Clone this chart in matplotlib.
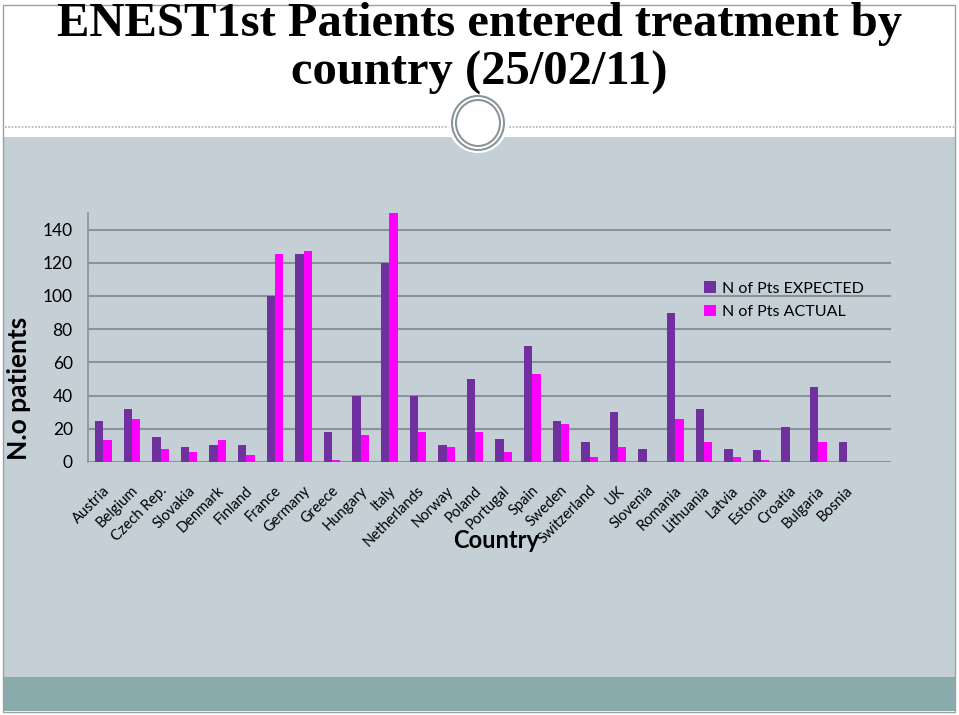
import matplotlib.pyplot as plt
import matplotlib.patches as mpatches
import matplotlib.transforms as mtransforms
import numpy as np

# ENEST1st patients by country: expected vs actual

countries = ["Austria", "Belgium", "Czech Rep.", "Slovakia", "Denmark", "Finland",
             "France", "Germany", "Greece", "Hungary", "Italy", "Netherlands",
             "Norway", "Poland", "Portugal", "Spain", "Sweden", "Switzerland",
             "UK", "Slovenia", "Romania", "Lithuania", "Latvia", "Estonia",
             "Croatia", "Bulgaria", "Bosnia"]
expected = [25, 32, 15, 9, 10, 10, 100, 125, 18, 40, 120, 40, 10, 50, 14, 70,
            25, 12, 30, 8, 90, 32, 8, 7, 21, 45, 12]
actual = [13, 26, 8, 6, 13, 4, 125, 127, 1, 16, 150, 18, 9, 18, 6, 53, 23, 3,
          9, 0, 26, 12, 3, 1, 0, 12, 0]
yticks = [0, 20, 40, 60, 80, 100, 120, 140]

W, H = 959, 715
fig = plt.figure(figsize=(W / 100, H / 100), dpi=100)
fig.patch.set_facecolor("white")


def fx(x):
    return x / W


def fy(y):
    return 1 - y / H


# slide decoration
fig.add_artist(mpatches.Rectangle((fx(4), fy(677)), fx(951), fy(137) - fy(677),
                                  facecolor="#c5d0d6", edgecolor="none", zorder=0))
fig.add_artist(mpatches.Rectangle((fx(4), fy(711)), fx(951), fy(677) - fy(711),
                                  facecolor="#8aabac", edgecolor="none", zorder=0))
fig.add_artist(mpatches.Rectangle((fx(3), fy(712)), fx(952), fy(5) - fy(712),
                                  facecolor="none", edgecolor="#9aa0a4", lw=1, zorder=1))
fig.add_artist(plt.Line2D([fx(5), fx(450)], [fy(127), fy(127)], color="#a8aeb2",
                          lw=1.2, ls=(0, (1, 1)), zorder=1))
fig.add_artist(plt.Line2D([fx(506), fx(954)], [fy(127), fy(127)], color="#a8aeb2",
                          lw=1.2, ls=(0, (1, 1)), zorder=1))
fig.add_artist(mpatches.Ellipse((fx(478), fy(123)), fx(60), 60 / H,
                                facecolor="white", edgecolor="none", zorder=2))
fig.add_artist(mpatches.Ellipse((fx(478), fy(123)), fx(52), 54 / H,
                                facecolor="none", edgecolor="#8a9599", lw=1.5, zorder=3))
fig.add_artist(mpatches.Ellipse((fx(478), fy(123)), fx(44), 46 / H,
                                facecolor="none", edgecolor="#8a9599", lw=1.5, zorder=3))

fig.text(0.5, fy(24), "ENEST1st Patients entered treatment by", ha="center", va="center",
         fontsize=35, fontweight="bold", family="Liberation Serif")
fig.text(0.5, fy(73), "country (25/02/11)", ha="center", va="center",
         fontsize=35, fontweight="bold", family="Liberation Serif")

# chart
ax = fig.add_axes([fx(88), fy(462), fx(803), (462 - 213) / H])
ax.set_facecolor("none")
x = np.arange(len(countries))
w = 0.29
ax.bar(x - w / 2, expected, w, color="#7030a0", label="N of Pts EXPECTED", zorder=3)
ax.bar(x + w / 2, actual, w, color="#ff00ff", label="N of Pts ACTUAL", zorder=3)

ax.set_xlim(-0.535, 27.54)
ax.set_ylim(0, 150)
ax.set_yticks(yticks)
ax.yaxis.grid(True, color="#8c9398", lw=1.5)
ax.set_axisbelow(True)
for s in ["top", "right", "bottom"]:
    ax.spines[s].set_visible(False)
ax.spines["left"].set_color("#8c9398")
ax.spines["left"].set_linewidth(1.2)
ax.tick_params(axis="y", length=0, pad=11, labelsize=12.5)
ax.tick_params(axis="x", length=0, pad=19, labelsize=10.5)
for lab in ax.get_yticklabels():
    lab.set_family("Lato")
ax.set_xticks(x)
ax.set_xticklabels(countries, rotation=45, ha="right", va="center",
                   rotation_mode="anchor", family="Lato")
shift = mtransforms.ScaledTranslation(4 / 100, 0, fig.dpi_scale_trans)
for lab in ax.get_xticklabels():
    lab.set_transform(lab.get_transform() + shift)

ax.legend(loc="upper left", bbox_to_anchor=(fx(690), fy(267)), bbox_transform=fig.transFigure,
          frameon=False, prop={"family": "Lato", "size": 11.5}, handlelength=0.7,
          handleheight=0.7, handletextpad=0.4, labelspacing=0.6)

fig.text(fx(496), fy(541), "Country", ha="center", va="center", fontsize=17,
         fontweight="bold", family="Lato")
fig.text(fx(19), fy(388), "N.o patients", ha="center", va="center", rotation=90,
         fontsize=19, fontweight="bold", family="Lato")

fig.savefig("out.png", dpi=100)
